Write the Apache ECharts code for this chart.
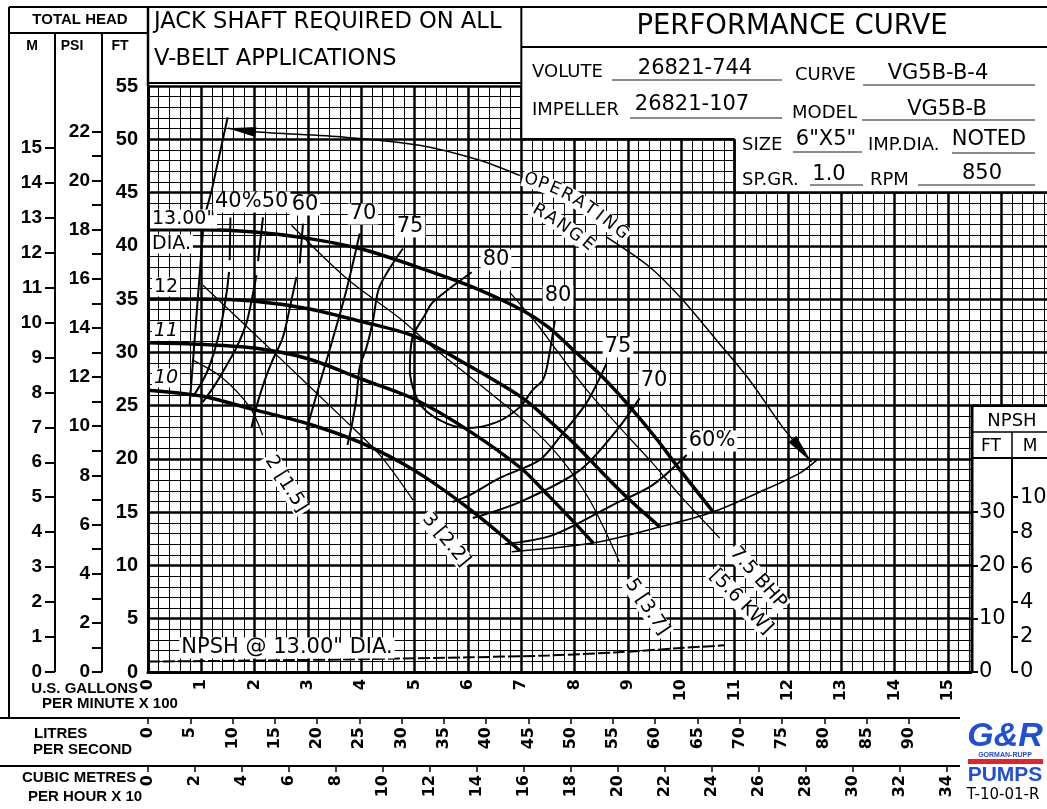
<!DOCTYPE html>
<html>
<head>
<meta charset="utf-8">
<script src="https://cdn.jsdelivr.net/npm/echarts@6.0.0/dist/echarts.min.js"></script>
<style>
html,body{margin:0;padding:0;background:#fff;overflow:hidden}
#chart{width:1047px;height:809px}
</style>
</head>
<body>
<div id="chart"></div>
<script>
// ---------------- tick labels ----------------
const gpmTicks    = [0,1,2,3,4,5,6,7,8,9,10,11,12,13,14,15];
const litresTicks = [0,5,10,15,20,25,30,35,40,45,50,55,60,65,70,75,80,85,90];
const cubicTicks  = [0,2,4,6,8,10,12,14,16,18,20,22,24,26,28,30,32,34];
const mTicks      = [0,1,2,3,4,5,6,7,8,9,10,11,12,13,14,15];
const psiTicks    = [0,1,2,3,4,5,6,7,8,9,10,11,12,13,14,15,16,17,18,19,20,21,22];
const psiLabels   = [0,2,4,6,8,10,12,14,16,18,20,22];
const npshFtTicks = [0,10,20,30];
const npshMTicks  = [0,2,4,6,8,10];

// ---------------- head curves: [US GPM / 100, total head ft] ----------------
const head13 = [[0,41.5],[1,41.5],[2,41.3],[3,40.7],[4,39.7],[5,38.1],[6,36.3],[7,34.0],[7.5,32.4],[8,30.1],[8.5,27.8],[9,25.1],[9.5,22.1],[10,18.8],[10.6,15.0]];
const head12 = [[0,35.0],[1,35.0],[2,34.8],[3,34.1],[4,32.9],[5,31.5],[6,28.8],[7,25.8],[7.5,23.7],[8,21.4],[8.5,18.8],[9,16.3],[9.6,13.6]];
const head11 = [[0,30.9],[1,30.75],[2,30.4],[3,29.4],[4,27.5],[5,25.6],[6,22.7],[7,19.1],[7.5,16.6],[8,14.0],[8.35,12.1]];
const head10 = [[0,26.45],[1,25.9],[2,24.6],[3,23.3],[4,21.5],[5,18.9],[6,15.4],[6.97,11.4]];

// ---------------- efficiency lines ----------------
const eff40  = [[1.545,42.65],[1.532,38.65],null,[1.519,37.55],[1.48,35.83],[1.376,32.71],[1.25,30.21],[1.095,28.02],[0.844,25.83]];
const eff50  = [[2.156,42.68],[2.063,38.56],null,[2.033,37.24],[1.944,34.9],[1.845,32.74],[1.663,30.49],[1.476,28.8],[1.25,26.9],[1.026,25.33]];
const eff60  = [[2.906,42.09],[2.845,38.34],null,[2.783,37.08],[2.689,34.9],[2.531,31.45],[2.32,29.08],[2.19,27.39],[2.033,24.89],[1.94,22.9]];
const eff70  = [[3.97,41.15],[3.72,35.83],[3.44,30.83],[3.22,27.08],[2.97,22.7]];
const eff75  = [[4.78,39.75],[4.34,36.14],[4.22,33.02],[4.1,30.52],[3.97,28.64],[3.91,25.83],[3.84,23.64],[3.74,21.3]];
const eff80  = [[6.07,37.52],[5.34,34.71],[5.19,33.49],[4.96,31.43],[4.91,28.33],[5.09,25.23],[5.47,23.64],[5.97,22.89],[6.54,23.45],[6.97,24.86],[7.21,26.45],[7.4,27.39],[7.48,28.61],[7.63,33.02]];
const eff75R = [[8.6,28.99],[8.23,25.33],[7.72,22.05],[7.34,19.89],[6.59,18.2],[6.03,16.6],[5.71,15.95]];
const eff70R = [[9.22,25.7],[8.79,22.7],[8.1,18.95],[6.97,15.95],[6.09,14.45]];
const eff60R = [[10.1,20.36],[9.46,17.54],[8.71,15.67],[7.59,12.85],[6.69,12.0]];

// ---------------- brake horsepower lines ----------------
const bhp2  = [[0.838,29.27],[1.38,27.67],[1.907,24.86],[2.151,22.23]];
const bhp3  = [[1.03,36.3],[2.36,30.0],[3.69,23.64],[4.35,20.36],[4.97,16.14]];
const bhp5  = [[2.69,41.93],[3.72,36.96],[4.72,33.2],[5.34,30.49],[6.28,26.74],[7.1,23.36],[7.72,20.17],[8.28,16.14],[8.84,10.32]];
const bhp75 = [[6.78,35.65],[7.34,32.36],[7.66,30.2],[8.23,26.45],[8.84,22.98],[9.46,19.61],[9.97,16.6],[10.72,12.57]];

// ---------------- limits / operating range ----------------
const minFlow = [[1.494,52.06],[1.194,45.2],[1.05,42.59],[0.78,25.05]];
const endLine = [[6.82,11.29],[8.34,12.1],[9.59,13.6],[10.59,15.01],[11.47,16.89],[12.22,18.67],[12.56,19.98]];
const opArc   = [[1.5,51.03],[2.0,50.7],[3.69,50.19],[5.09,49.44],[6.22,48.03],[6.97,46.6],null,[8.6,40.81],[9.41,37.99],[10.03,34.9],[10.66,31.14],[11.28,27.39],[11.9,22.98],[12.44,19.7]];

// ---------------- NPSH required (ft) ----------------
const npsh13 = [[0,1.95],[2,2.15],[4,2.4],[6,2.75],[7.5,3.1],[8.8,3.7],[10,4.5],[10.8,5.0]];

// ---------------- unit conversions ----------------
const GPM_PER_LPS = 15.8503, GPM_PER_M3H = 4.40287, FT_PER_M = 3.28084, FT_PER_PSI = 2.30666;
const X_MAX = 17, Y_MAX = 55, NPSH_MAX = 110;

const FC = "'DejaVu Sans', sans-serif";
const FB = "'Liberation Sans', Arial, sans-serif";
const K = '#000';
const PLOT = {left:148, top:86, width:906.67, height:586};

const chart = echarts.init(document.getElementById('chart'), null, {renderer:'canvas'});

function S(data, w, extra) {
  return Object.assign({type:'line', data, xAxisIndex:0, yAxisIndex:0, symbol:'none', showSymbol:false,
    smooth:0.3, silent:true, connectNulls:false, animation:false, z:3,
    lineStyle:{color:K, width:w}}, extra || {});
}
function secAxis(o) {
  return Object.assign({type:'value', min:0, splitLine:{show:false}, axisLine:{show:false, onZero:false}}, o);
}

const option = {
  animation:false,
  backgroundColor:'#fff',
  grid:{left:PLOT.left, top:PLOT.top, width:PLOT.width, height:PLOT.height, containLabel:false, outerBoundsMode:'none'},
  xAxis:[
    {type:'value', min:0, max:X_MAX, interval:1, position:'bottom', z:1,
     axisLine:{show:true, onZero:false, lineStyle:{color:K, width:3}}, axisTick:{show:false},
     axisLabel:{customValues:gpmTicks, rotate:90, color:K, fontSize:16, fontWeight:'bold', fontFamily:FC, margin:7},
     splitLine:{show:true, lineStyle:{color:K, width:2.5}},
     minorTick:{show:false, splitNumber:5}, minorSplitLine:{show:true, lineStyle:{color:K, width:1}}},
    secAxis({max:X_MAX*100/GPM_PER_LPS, position:'bottom', offset:46, z:1,
     axisTick:{show:true, customValues:litresTicks, length:6, lineStyle:{color:K, width:1.5}},
     axisLabel:{customValues:litresTicks, rotate:90, color:K, fontSize:16, fontWeight:'bold', fontFamily:FC, margin:9}}),
    secAxis({max:X_MAX*100/GPM_PER_M3H/10, position:'bottom', offset:94, z:1,
     axisTick:{show:true, customValues:cubicTicks, length:6, lineStyle:{color:K, width:1.5}},
     axisLabel:{customValues:cubicTicks, rotate:90, color:K, fontSize:16, fontWeight:'bold', fontFamily:FC, margin:9}})
  ],
  yAxis:[
    {type:'value', min:0, max:Y_MAX, interval:5, position:'left', z:1,
     axisLine:{show:true, onZero:false, lineStyle:{color:K, width:3}}, axisTick:{show:false},
     axisLabel:{color:K, fontSize:20, fontWeight:'bold', fontFamily:FB, margin:10},
     splitLine:{show:true, lineStyle:{color:K, width:2.5}},
     minorTick:{show:false, splitNumber:5}, minorSplitLine:{show:true, lineStyle:{color:K, width:1}}},
    secAxis({max:Y_MAX/FT_PER_M, position:'left', offset:93, z:1,
     axisTick:{show:true, customValues:mTicks, length:10, lineStyle:{color:K, width:2}},
     axisLabel:{customValues:mTicks, color:K, fontSize:19, fontWeight:'bold', fontFamily:FB, margin:13}}),
    secAxis({max:Y_MAX/FT_PER_PSI, position:'left', offset:46, z:1,
     axisTick:{show:true, customValues:psiTicks, length:10, lineStyle:{color:K, width:2}},
     axisLabel:{customValues:psiLabels, color:K, fontSize:19, fontWeight:'bold', fontFamily:FB, margin:12}}),
    secAxis({max:NPSH_MAX, position:'right', offset:-(PLOT.left+PLOT.width-972), z:100,
     axisTick:{show:true, customValues:npshFtTicks, length:6, lineStyle:{color:K, width:2}},
     axisLabel:{customValues:npshFtTicks, color:K, fontSize:21, fontFamily:FC, margin:7}}),
    secAxis({max:NPSH_MAX/FT_PER_M, position:'right', offset:-(PLOT.left+PLOT.width-1012), z:100,
     axisTick:{show:true, customValues:npshMTicks, length:6, lineStyle:{color:K, width:2}},
     axisLabel:{customValues:npshMTicks, color:K, fontSize:21, fontFamily:FC, margin:8}})
  ],
  series:[
    S(head13,3.5), S(head12,3.5), S(head11,3.5), S(head10,3.5),
    S(eff40,2), S(eff50,2), S(eff60,2), S(eff70,2), S(eff75,2), S(eff80,2),
    S(eff75R,2), S(eff70R,2), S(eff60R,2),
    S(bhp2,1.3), S(bhp3,1.3), S(bhp5,1.3), S(bhp75,1.3),
    S(minFlow,2,{smooth:false}), S(endLine,1.6), S(opArc,1.5),
    S(npsh13,2,{yAxisIndex:3, lineStyle:{color:K, width:2, type:[12,3]}})
  ]
};
chart.setOption(option);

// ---------------- decorations (frames, texts) ----------------
const P = v => chart.convertToPixel({xAxisIndex:0, yAxisIndex:0}, v);
const x7 = P([7,0])[0], x11 = P([11,0])[0];
const y50 = P([0,50])[1], y45 = P([0,45])[1], y25 = P([0,25])[1], y0 = P([0,0])[1];
const G = [];
function R(x,y,w,h,fill,z){ G.push({type:'rect', shape:{x,y,width:w,height:h}, style:{fill:fill||'#fff'}, z:z||50, silent:true}); }
function L(x1,y1,x2,y2,w,c){ G.push({type:'line', shape:{x1,y1,x2,y2}, style:{stroke:c||K, lineWidth:w||2}, z:60, silent:true}); }
function T(text,x,y,o){
  o = o || {};
  const font = (o.italic?'italic ':'') + (o.bold?'bold ':'') + (o.size||18) + 'px ' + (o.family||FC);
  G.push({type:'text', x, y, rotation:(o.rot||0)*Math.PI/180, z:o.z||70, silent:true,
    style:{text, fill:o.color||K, font, align:o.align||'left', textAlign:o.align||'left',
      verticalAlign:'middle', textVerticalAlign:'middle',
      backgroundColor:o.bg?'#fff':null, padding:o.bg?[0,2]:0}});
}
// white covers
R(x7, 0, 1100-x7, y50);
R(x11, y50-1, 1100-x11, y45-y50+1);
R(972, y25, 120, y0+3-y25);
// frame lines
L(9,7,1047,7,2); L(9,7,9,718,2); L(9,33,148,33,2);
L(55,33,55,y0,2); L(102,33,102,y0,2); L(148,7,148,PLOT.top,2.5);
L(148,83,x7,83,2); L(x7,7,x7,y50,2); L(x7,47,1047,47,2);
L(x7,y50,x11,y50,2.5); L(x11,y50,x11,y45,2.5); L(x11,y45,1047,y45,2.5);
L(972,y25,1047,y25,2.5); L(972,y25,972,y0,3); L(972,432,1047,432,1.5); L(1012,432,1012,458,1.5);
L(972,458,1047,458,2); L(1012,458,1012,y0,2);
L(0,718,960,718,2); L(0,766,960,766,2);
// underlines in info box
const U = '#666';
L(612,80,782,80,1.3,U); L(863,85,1035,85,1.3,U); L(630,118,782,118,1.3,U); L(862,120,1035,120,1.3,U);
L(793,152,862,152,1.3,U); L(952,153,1035,153,1.3,U); L(810,185,863,185,1.3,U); L(918,185,1035,185,1.3,U);

// arrowheads of the operating range
function arrow(tip, prev, len, hw){
  const a = P(tip), b = P(prev);
  const dx = a[0]-b[0], dy = a[1]-b[1], d = Math.hypot(dx,dy), ux = dx/d, uy = dy/d;
  const bx = a[0]-ux*len, by = a[1]-uy*len;
  G.push({type:'polygon', shape:{points:[a,[bx-uy*hw,by+ux*hw],[bx+uy*hw,by-ux*hw]]}, style:{fill:K}, z:60, silent:true});
}
arrow(opArc[0], opArc[1], 28, 5);
arrow(opArc[opArc.length-1], opArc[opArc.length-2], 30, 5);

// header texts
T('TOTAL HEAD', 80, 20, {bold:true, size:15, family:FB, align:'center'});
T('M', 32, 46, {bold:true, size:14, family:FB, align:'center'});
T('PSI', 72, 46, {bold:true, size:14, family:FB, align:'center'});
T('FT', 120, 46, {bold:true, size:14, family:FB, align:'center'});
T('JACK SHAFT REQUIRED ON ALL', 154, 22, {size:22.6});
T('V-BELT APPLICATIONS', 154, 59, {size:22.6});
T('PERFORMANCE CURVE', 792, 27, {size:27.5, align:'center'});
T('VOLUTE', 532, 72, {size:18});
T('26821-744', 695, 69, {size:21, align:'center'});
T('CURVE', 795, 75, {size:18});
T('VG5B-B-4', 938, 74, {size:21, align:'center'});
T('IMPELLER', 532, 110, {size:18});
T('26821-107', 692, 105, {size:21, align:'center'});
T('MODEL', 792, 113, {size:18});
T('VG5B-B', 947, 110, {size:21, align:'center'});
T('SIZE', 742, 145, {size:18});
T('6"X5"', 826, 140, {size:21, align:'center'});
T('IMP.DIA.', 868, 145, {size:18});
T('NOTED', 989, 140, {size:21, align:'center'});
T('SP.GR.', 742, 180, {size:18});
T('1.0', 829, 175, {size:21, align:'center'});
T('RPM', 870, 180, {size:18});
T('850', 982, 174, {size:21, align:'center'});

// bottom headings
T('U.S. GALLONS', 138, 689, {bold:true, size:15, family:FB, align:'right'});
T('PER MINUTE X 100', 42, 704, {bold:true, size:15, family:FB});
T('LITRES', 34, 734, {bold:true, size:15, family:FB});
T('PER SECOND', 33, 750, {bold:true, size:15, family:FB});
T('CUBIC METRES', 22, 778, {bold:true, size:15, family:FB});
T('PER HOUR X 10', 28, 797, {bold:true, size:15, family:FB});

// logo
const BLUE = '#1f4fd6';
T('G&R', 1005, 737, {bold:true, italic:true, size:34, family:FB, align:'center', color:BLUE});
T('GORMAN-RUPP', 1005, 755, {bold:true, size:7, family:FB, align:'center', color:BLUE});
R(968, 759, 75, 5, '#e3242b', 70);
T('PUMPS', 1005, 775, {bold:true, size:21, family:FB, align:'center', color:BLUE});
T('T-10-01-R', 1003, 795, {size:15, align:'center'});

// NPSH panel
T('NPSH', 1012, 421, {size:18, align:'center'});
T('FT', 991, 447, {size:17, align:'center'});
T('M', 1030, 447, {size:17, align:'center'});

// curve labels
T('13.00"', 150, 219, {size:19, bg:true});
T('DIA.', 150, 244, {size:19, bg:true});
T('12', 152, 287, {size:19, bg:true});
T('11', 152, 331, {size:19, italic:true, bg:true});
T('10', 152, 378, {size:19, italic:true, bg:true});
T('40%50', 213, 202, {size:21, bg:true});
T('60', 305, 205, {size:21, bg:true, align:'center'});
T('70', 363, 214, {size:21, bg:true, align:'center'});
T('75', 410, 227, {size:21, bg:true, align:'center'});
T('80', 496, 260, {size:21, bg:true, align:'center'});
T('80', 558, 296, {size:21, bg:true, align:'center'});
T('75', 618, 347, {size:21, bg:true, align:'center'});
T('70', 654, 381, {size:21, bg:true, align:'center'});
T('60%', 712, 441, {size:21, bg:true, align:'center'});
T('NPSH @ 13.00" DIA.', 287, 648, {size:21, bg:true, align:'center'});
T('2 [1.5]', 286, 484, {size:19, bg:true, align:'center', rot:-57.6});
T('3 [2.2]', 446, 540, {size:19, bg:true, align:'center', rot:-50});
T('5 [3.7]', 647, 607, {size:19, bg:true, align:'center', rot:-56});
T('7.5 BHP', 758, 578, {size:19, bg:true, align:'center', rot:-48.7});
T('[5.6 KW]', 741, 602, {size:19, bg:true, align:'center', rot:-46});
// operating range text
const opLetters = [['O',531,180,-16],['P',543,184,-19],['E',555,189,-23],['R',567,195,-27],['A',579,202,-31],['T',590,209,-35],['I',599,216,-38],['N',609,223,-40],['G',621,232,-42],
                   ['R',539,211,-30],['A',551,218,-33],['N',563,226,-36],['G',575,235,-38],['E',588,244,-40]];
opLetters.forEach(l => T(l[0], l[1], l[2], {size:17, align:'center', rot:l[3], bg:true}));

chart.setOption({graphic:{elements:G}});
</script>
</body>
</html>
